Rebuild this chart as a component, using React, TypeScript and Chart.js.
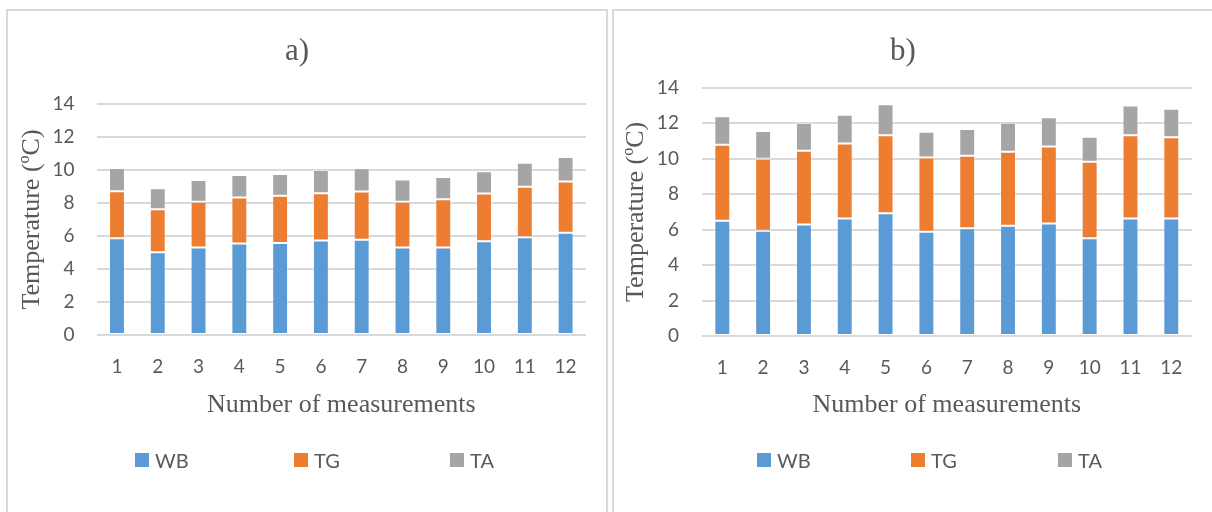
import React, { useEffect, useRef } from "react";
import { Chart, registerables } from "chart.js";

Chart.register(...registerables);

// Measurement numbers along the x axis
const measurements = ["1", "2", "3", "4", "5", "6", "7", "8", "9", "10", "11", "12"];

// Series names and colours
const seriesNames = ["WB", "TG", "TA"];
const seriesColors = ["#5B9BD5", "#ED7D31", "#A5A5A5"];

// Panel a) stacked components (°C)
const wbA = [5.86, 5.01, 5.31, 5.54, 5.58, 5.72, 5.78, 5.31, 5.31, 5.68, 5.92, 6.2];
const tgA = [2.85, 2.61, 2.77, 2.8, 2.86, 2.87, 2.91, 2.77, 2.91, 2.89, 3.07, 3.11];
const taA = [1.41, 1.27, 1.31, 1.36, 1.32, 1.41, 1.41, 1.35, 1.36, 1.35, 1.45, 1.48];

// Panel b) stacked components (°C)
const wbB = [6.5, 5.94, 6.28, 6.62, 6.92, 5.88, 6.07, 6.22, 6.35, 5.51, 6.62, 6.62];
const tgB = [4.29, 4.06, 4.17, 4.23, 4.4, 4.18, 4.1, 4.17, 4.33, 4.32, 4.7, 4.58];
const taB = [1.6, 1.56, 1.56, 1.63, 1.74, 1.46, 1.5, 1.64, 1.65, 1.41, 1.67, 1.62];

// Y axis range
const yMin = 0;
const yMax = 14;
const yStep = 2;

const TEXT = "#595959";
const GRID = "#D9D9D9";
const SANS = "Lato, 'Open Sans', sans-serif";
const SERIF = "'Liberation Serif', 'Times New Roman', serif";

type PanelSpec = {
  title: string;
  series: number[][];
  canvasLeft: number;
  canvasTop: number;
  canvasW: number;
  canvasH: number;
  plotLeft: number;
  plotRight: number;
  plotTop: number;
  plotBottom: number;
  titleCenterY: number;
  xTitleCenterY: number;
  yTitleCenterX: number;
  yTickPad: number;
  legendX: number[];
  legendY: number;
};

function StackedPanel({ spec }: { spec: PanelSpec }) {
  const ref = useRef<HTMLCanvasElement | null>(null);

  useEffect(() => {
    if (!ref.current) return;
    const s = spec;
    const chartTop = s.plotTop - s.canvasTop;
    const chartBottom = s.plotBottom - s.canvasTop;
    const chartLeft = s.plotLeft - s.canvasLeft;
    const chartRight = s.plotRight - s.canvasLeft;
    const titleLH = 31 * 1.2;
    const titlePadTop = s.titleCenterY - s.canvasTop - titleLH / 2;
    const titlePadBottom = chartTop - titlePadTop - titleLH;
    const axisLH = 26 * 1.2;
    const xH = s.xTitleCenterY - s.canvasTop + axisLH / 2 - chartBottom;
    const padBottom = s.canvasH - chartBottom - xH;
    const yTitlePad = s.yTitleCenterX - s.canvasLeft - axisLH / 2;

    const chart = new Chart(ref.current, {
      type: "bar",
      data: {
        labels: measurements,
        datasets: s.series.map((vals, i) => ({
          label: seriesNames[i],
          data: vals,
          backgroundColor: seriesColors[i],
          borderColor: "rgba(255,255,255,0.3)",
          borderWidth: 1,
          borderSkipped: false,
          barPercentage: 0.39,
          categoryPercentage: 1,
        })),
      },
      options: {
        responsive: false,
        animation: false,
        layout: {
          padding: { left: 0, right: s.canvasW - chartRight, top: 0, bottom: padBottom },
        },
        plugins: {
          legend: { display: false },
          tooltip: { enabled: false },
          title: {
            display: true,
            text: s.title,
            color: TEXT,
            font: { family: SERIF, size: 31, weight: "normal", lineHeight: 1.2 },
            padding: { top: titlePadTop, bottom: titlePadBottom },
          },
        },
        scales: {
          x: {
            stacked: true,
            grid: { display: false, drawTicks: false },
            border: { display: false },
            ticks: { color: TEXT, font: { family: SANS, size: 19 }, padding: 20, maxRotation: 0, autoSkip: false },
            title: {
              display: true,
              text: "Number of measurements",
              color: TEXT,
              font: { family: SERIF, size: 26, weight: "normal", lineHeight: 1.2 },
              padding: { top: 0, bottom: 0 },
            },
            afterFit: (scale: any) => {
              scale.height = xH;
            },
          },
          y: {
            stacked: true,
            min: yMin,
            max: yMax,
            grid: { color: GRID, lineWidth: 2, drawTicks: false },
            border: { display: false },
            ticks: { stepSize: yStep, color: TEXT, font: { family: SANS, size: 19 }, padding: s.yTickPad },
            title: {
              display: true,
              text: "Temperature (ºC)",
              color: TEXT,
              font: { family: SERIF, size: 26, weight: "normal", lineHeight: 1.2 },
              padding: { top: yTitlePad, bottom: 0 },
            },
            afterFit: (scale: any) => {
              scale.width = chartLeft;
            },
          },
        },
      },
    });
    return () => chart.destroy();
  }, [spec]);

  return (
    <>
      <canvas
        ref={ref}
        width={spec.canvasW}
        height={spec.canvasH}
        style={{
          position: "absolute",
          left: spec.canvasLeft,
          top: spec.canvasTop,
          width: spec.canvasW,
          height: spec.canvasH,
        }}
      />
      {seriesNames.map((name, i) => (
        <div
          key={name}
          style={{
            position: "absolute",
            left: spec.legendX[i],
            top: spec.legendY - 12,
            height: 24,
            display: "flex",
            alignItems: "center",
            fontFamily: SANS,
            fontSize: 20,
            color: TEXT,
            whiteSpace: "nowrap",
          }}
        >
          <span style={{ display: "inline-block", width: 14, height: 14, background: seriesColors[i], marginRight: 6 }} />
          <span>{name}</span>
        </div>
      ))}
    </>
  );
}

const panelA: PanelSpec = {
  title: "a)",
  series: [wbA, tgA, taA],
  canvasLeft: 8,
  canvasTop: 11,
  canvasW: 598,
  canvasH: 501,
  plotLeft: 96.6,
  plotRight: 586,
  plotTop: 104,
  plotBottom: 335,
  titleCenterY: 52,
  xTitleCenterY: 405,
  yTitleCenterX: 32,
  yTickPad: 22,
  legendX: [135, 294, 450],
  legendY: 460,
};

const panelB: PanelSpec = {
  title: "b)",
  series: [wbB, tgB, taB],
  canvasLeft: 614,
  canvasTop: 11,
  canvasW: 598,
  canvasH: 501,
  plotLeft: 701.9,
  plotRight: 1191.7,
  plotTop: 87.7,
  plotBottom: 336,
  titleCenterY: 52,
  xTitleCenterY: 405,
  yTitleCenterX: 636,
  yTickPad: 23,
  legendX: [757, 911, 1058],
  legendY: 460,
};

export default function App() {
  return (
    <div
      style={{
        position: "fixed",
        left: 0,
        top: 0,
        width: 1212,
        height: 512,
        overflow: "hidden",
        background: "#ffffff",
      }}
    >
      <div
        style={{
          position: "absolute",
          left: 6,
          top: 9,
          width: 602,
          height: 530,
          border: `2px solid ${GRID}`,
          boxSizing: "border-box",
        }}
      />
      <div
        style={{
          position: "absolute",
          left: 612,
          top: 9,
          width: 640,
          height: 530,
          border: `2px solid ${GRID}`,
          boxSizing: "border-box",
        }}
      />
      <StackedPanel spec={panelA} />
      <StackedPanel spec={panelB} />
    </div>
  );
}
